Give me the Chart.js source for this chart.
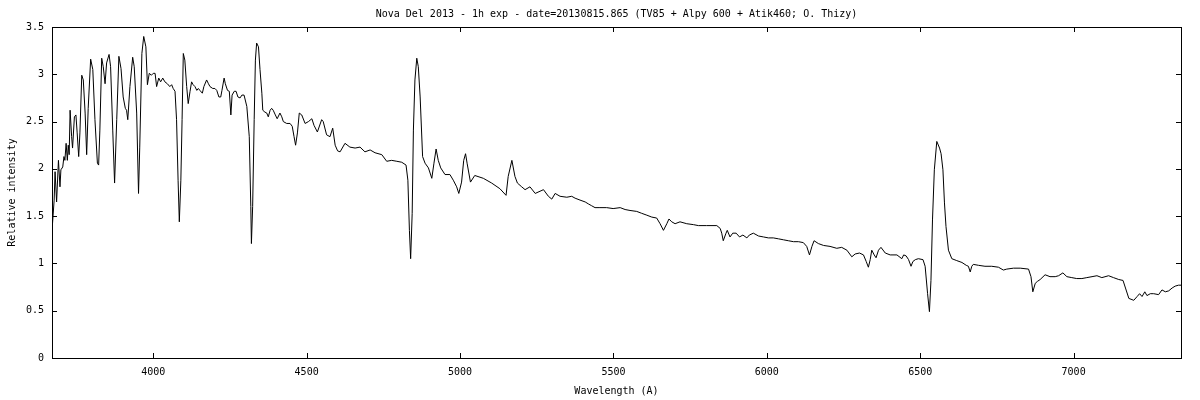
<!DOCTYPE html>
<html>
<head>
<meta charset="utf-8">
<script src="https://cdn.jsdelivr.net/npm/chart.js@4/dist/chart.umd.min.js"></script>
<style>
  html, body { margin: 0; padding: 0; background: #fff; }
  canvas { display: block; }
</style>
</head>
<body>
<canvas id="spectrum" width="1200" height="400"></canvas>
<script>
// wavelength in Angstrom
const wavelength = [
  3671, 3677, 3680, 3685, 3691, 3696, 3699, 3705, 3709, 3712,
  3716, 3720, 3723, 3726, 3729, 3734, 3737, 3743, 3748, 3752,
  3757, 3761, 3767, 3772, 3778, 3783, 3788, 3796, 3803, 3810,
  3818, 3822, 3826, 3832, 3837, 3843, 3848, 3856, 3861, 3868,
  3874, 3881, 3888, 3895, 3902, 3909, 3913, 3917, 3924, 3933,
  3938, 3946, 3952, 3956, 3963, 3969, 3976, 3981, 3987, 3994,
  4000, 4006, 4011, 4018, 4024, 4031, 4038, 4046, 4054, 4060,
  4065, 4071, 4076, 4081, 4085, 4090, 4094, 4098, 4103, 4109,
  4114, 4120, 4125, 4130, 4136, 4142, 4147, 4152, 4160, 4165,
  4174, 4180, 4185, 4194, 4201, 4207, 4214, 4220, 4224, 4231,
  4235, 4242, 4248, 4253, 4257, 4264, 4270, 4276, 4283, 4289,
  4296, 4305, 4313, 4318, 4320, 4324, 4329, 4333, 4337, 4343,
  4348, 4354, 4357, 4364, 4370, 4375, 4381, 4386, 4391, 4398,
  4404, 4413, 4419, 4424, 4435, 4446, 4453, 4459, 4464, 4470,
  4476, 4484, 4495, 4506, 4517, 4524, 4535, 4549, 4554, 4565,
  4576, 4585, 4593, 4601, 4609, 4625, 4641, 4658, 4674, 4690,
  4707, 4723, 4745, 4761, 4777, 4794, 4810, 4824, 4830, 4835,
  4839, 4844, 4848, 4853, 4859, 4864, 4870, 4878, 4886, 4897,
  4908, 4915, 4922, 4929, 4937, 4951, 4967, 4978, 4989, 4996,
  5005, 5012, 5018, 5023, 5034, 5048, 5076, 5103, 5130, 5150,
  5157, 5169, 5179, 5187, 5201, 5212, 5228, 5245, 5272, 5288,
  5299, 5310, 5326, 5348, 5364, 5375, 5391, 5408, 5418, 5429,
  5440, 5456, 5478, 5499, 5522, 5538, 5554, 5576, 5592, 5609,
  5625, 5641, 5652, 5663, 5674, 5681, 5690, 5701, 5717, 5739,
  5761, 5777, 5804, 5837, 5848, 5853, 5858, 5867, 5871, 5880,
  5889, 5900, 5911, 5922, 5935, 5943, 5956, 5973, 5989, 6005,
  6021, 6038, 6054, 6070, 6087, 6103, 6119, 6130, 6139, 6147,
  6154, 6168, 6185, 6206, 6228, 6244, 6261, 6277, 6288, 6302,
  6315, 6324, 6331, 6337, 6342, 6350, 6356, 6364, 6372, 6386,
  6402, 6424, 6440, 6446, 6454, 6462, 6470, 6476, 6484, 6494,
  6509, 6516, 6524, 6530, 6535, 6540, 6546, 6554, 6563, 6568,
  6574, 6579, 6584, 6592, 6603, 6619, 6636, 6650, 6657, 6663,
  6668, 6673, 6690, 6711, 6733, 6755, 6771, 6782, 6804, 6826,
  6853, 6861, 6867, 6875, 6882, 6891, 6907, 6923, 6940, 6951,
  6965, 6978, 6994, 7010, 7027, 7043, 7060, 7076, 7092, 7114,
  7130, 7147, 7161, 7169, 7180, 7196, 7207, 7215, 7223, 7232,
  7239, 7250, 7261, 7277, 7288, 7299, 7310, 7321, 7331, 7342,
  7350
];

// relative intensity at each wavelength above
const intensity = [
  1.39, 1.67, 1.97, 1.65, 2.09, 1.81, 1.99, 2.02, 2.13, 2.09,
  2.27, 2.09, 2.25, 2.15, 2.62, 2.34, 2.22, 2.55, 2.57, 2.38,
  2.13, 2.38, 2.99, 2.94, 2.59, 2.15, 2.64, 3.16, 3.05, 2.52,
  2.06, 2.04, 2.41, 3.17, 3.08, 2.90, 3.12, 3.21, 3.08, 2.41,
  1.85, 2.52, 3.19, 3.06, 2.76, 2.64, 2.62, 2.52, 2.87, 3.18,
  3.08, 2.59, 1.74, 2.23, 3.22, 3.40, 3.29, 2.89, 3.01, 2.99,
  3.01, 3.01, 2.87, 2.96, 2.92, 2.96, 2.92, 2.90, 2.87, 2.89,
  2.85, 2.82, 2.52, 1.88, 1.44, 1.88, 2.52, 3.22, 3.15, 2.87,
  2.69, 2.82, 2.92, 2.89, 2.87, 2.83, 2.85, 2.83, 2.80, 2.87,
  2.94, 2.90, 2.87, 2.85, 2.85, 2.83, 2.76, 2.76, 2.83, 2.96,
  2.90, 2.83, 2.82, 2.57, 2.78, 2.82, 2.82, 2.76, 2.75, 2.78,
  2.78, 2.66, 2.34, 1.60, 1.21, 1.60, 2.52, 3.15, 3.33, 3.29,
  3.05, 2.80, 2.62, 2.60, 2.59, 2.55, 2.62, 2.64, 2.62, 2.57,
  2.53, 2.59, 2.55, 2.50, 2.48, 2.48, 2.45, 2.34, 2.25, 2.38,
  2.59, 2.57, 2.48, 2.50, 2.53, 2.46, 2.39, 2.52, 2.50, 2.36,
  2.34, 2.43, 2.25, 2.19, 2.18, 2.27, 2.23, 2.22, 2.23, 2.18,
  2.20, 2.17, 2.15, 2.08, 2.09, 2.08, 2.07, 2.04, 1.88, 1.35,
  1.05, 1.53, 2.41, 2.94, 3.17, 3.08, 2.76, 2.13, 2.06, 2.01,
  1.90, 2.06, 2.21, 2.09, 2.01, 1.94, 1.94, 1.88, 1.81, 1.74,
  1.86, 2.09, 2.16, 2.06, 1.86, 1.93, 1.90, 1.85, 1.79, 1.72,
  1.92, 2.09, 1.92, 1.85, 1.81, 1.78, 1.81, 1.74, 1.78, 1.71,
  1.68, 1.74, 1.71, 1.70, 1.71, 1.69, 1.67, 1.65, 1.63, 1.61,
  1.59, 1.59, 1.59, 1.58, 1.59, 1.57, 1.56, 1.55, 1.53, 1.51,
  1.49, 1.48, 1.42, 1.35, 1.42, 1.47, 1.44, 1.42, 1.44, 1.42,
  1.41, 1.40, 1.40, 1.40, 1.37, 1.32, 1.24, 1.32, 1.35, 1.28,
  1.32, 1.32, 1.28, 1.30, 1.27, 1.30, 1.32, 1.29, 1.28, 1.27,
  1.27, 1.26, 1.25, 1.24, 1.23, 1.23, 1.22, 1.18, 1.09, 1.18,
  1.24, 1.21, 1.19, 1.18, 1.16, 1.17, 1.14, 1.07, 1.10, 1.11,
  1.09, 1.02, 0.96, 1.04, 1.14, 1.09, 1.06, 1.14, 1.17, 1.11,
  1.09, 1.09, 1.05, 1.09, 1.08, 1.04, 0.97, 1.02, 1.04, 1.05,
  1.04, 0.97, 0.68, 0.49, 0.82, 1.46, 1.99, 2.29, 2.22, 2.16,
  1.99, 1.64, 1.39, 1.14, 1.05, 1.03, 1.01, 0.98, 0.97, 0.91,
  0.97, 0.99, 0.98, 0.97, 0.97, 0.96, 0.93, 0.94, 0.95, 0.95,
  0.94, 0.86, 0.70, 0.79, 0.81, 0.83, 0.88, 0.86, 0.86, 0.87,
  0.90, 0.86, 0.85, 0.84, 0.84, 0.85, 0.86, 0.87, 0.85, 0.87,
  0.85, 0.83, 0.82, 0.74, 0.63, 0.61, 0.65, 0.68, 0.65, 0.70,
  0.66, 0.68, 0.68, 0.67, 0.72, 0.70, 0.71, 0.74, 0.76, 0.77,
  0.77
];

const xTicks = [4000, 4500, 5000, 5500, 6000, 6500, 7000];
const yTicks = [0, 0.5, 1, 1.5, 2, 2.5, 3, 3.5];
const xRange = [3670, 7350];

const FONT = { family: '"DejaVu Sans Mono", monospace', size: 10, weight: 'normal', lineHeight: 1.2 };

// gnuplot-like frame: box round the plot and ticks pointing inwards on all four sides
const frameTicks = {
  id: 'frameTicks',
  afterDatasetsDraw(chart) {
    const { ctx, chartArea: a, scales: { x, y } } = chart;
    const len = 5;
    ctx.save();
    ctx.strokeStyle = '#000';
    ctx.lineWidth = 1;
    ctx.strokeRect(Math.round(a.left) + 0.5, Math.round(a.top) + 0.5,
                   Math.round(a.right - a.left), Math.round(a.bottom - a.top));
    ctx.beginPath();
    xTicks.forEach(v => {
      const px = Math.round(x.getPixelForValue(v)) + 0.5;
      ctx.moveTo(px, a.bottom); ctx.lineTo(px, a.bottom - len);
      ctx.moveTo(px, a.top);    ctx.lineTo(px, a.top + len);
    });
    yTicks.forEach(v => {
      const py = Math.round(y.getPixelForValue(v)) + 0.5;
      ctx.moveTo(a.left, py);  ctx.lineTo(a.left + len, py);
      ctx.moveTo(a.right, py); ctx.lineTo(a.right - len, py);
    });
    ctx.stroke();
    ctx.restore();
  }
};

const points = wavelength.map((w, i) => ({ x: w, y: intensity[i] }));

new Chart(document.getElementById('spectrum').getContext('2d'), {
  type: 'line',
  data: {
    datasets: [{
      data: points,
      borderColor: '#000',
      borderWidth: 1,
      pointRadius: 0,
      tension: 0,
      fill: false
    }]
  },
  options: {
    responsive: false,
    animation: false,
    devicePixelRatio: 1,
    layout: { padding: { left: 0, right: 19, top: 0, bottom: 0 } },
    plugins: {
      legend: { display: false },
      tooltip: { enabled: false },
      title: {
        display: true,
        fullSize: false,
        text: 'Nova Del 2013 - 1h exp - date=20130815.865 (TV85 + Alpy 600 + Atik460; O. Thizy)',
        color: '#000',
        font: FONT,
        padding: { top: 8, bottom: 7 }
      }
    },
    scales: {
      x: {
        type: 'linear',
        min: xRange[0],
        max: xRange[1],
        afterBuildTicks: s => { s.ticks = xTicks.map(v => ({ value: v })); },
        afterFit: s => { s.height = 42; },
        grid: { display: false, drawTicks: false },
        border: { display: false },
        ticks: { color: '#000', font: FONT, padding: 8, maxRotation: 0, callback: v => String(v) },
        title: { display: true, text: 'Wavelength (A)', color: '#000', font: FONT, padding: { top: 0, bottom: 3 } }
      },
      y: {
        min: 0,
        max: 3.5,
        afterBuildTicks: s => { s.ticks = yTicks.map(v => ({ value: v })); },
        afterFit: s => { s.width = 52; },
        grid: { display: false, drawTicks: false },
        border: { display: false },
        ticks: { color: '#000', font: FONT, padding: 8, callback: v => String(v) },
        title: { display: true, text: 'Relative intensity', color: '#000', font: FONT, padding: { top: 6, bottom: 0 } }
      }
    }
  },
  plugins: [frameTicks]
});
</script>
</body>
</html>
